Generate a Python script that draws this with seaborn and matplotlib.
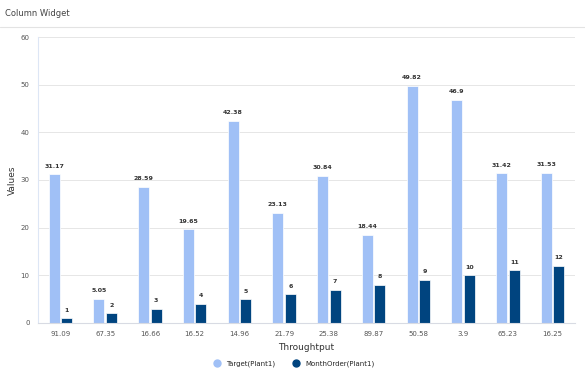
import pandas as pd
import seaborn as sns
import matplotlib.pyplot as plt
from matplotlib.lines import Line2D

# chart values
categories = ['91.09', '67.35', '16.66', '16.52', '14.96', '21.79',
              '25.38', '89.87', '50.58', '3.9', '65.23', '16.25']
target = [31.17, 5.05, 28.59, 19.65, 42.38, 23.13, 30.84, 18.44, 49.82, 46.9, 31.42, 31.53]
month_order = [1, 2, 3, 4, 5, 6, 7, 8, 9, 10, 11, 12]
series_names = ['Target(Plant1)', 'MonthOrder(Plant1)']
colors = ['#a0c0f6', '#00447f']

df = pd.DataFrame({
    'Throughtput': categories * 2,
    'Values': target + month_order,
    'series': [series_names[0]] * len(categories) + [series_names[1]] * len(categories),
})

sns.set_style('white')
plt.rcParams['font.family'] = ['DejaVu Sans']

fig = plt.figure(figsize=(5.85, 3.75), dpi=100)
ax = fig.add_axes([0.065, 0.139, 0.918, 0.762])

sns.barplot(data=df, x='Throughtput', y='Values', hue='series', order=categories,
            hue_order=series_names, palette=colors, saturation=1, width=0.56, gap=0.13,
            edgecolor='white', linewidth=0.5, ax=ax, legend=False)

for cont in ax.containers:
    labels = [f'{v:g}' for v in cont.datavalues]
    ax.bar_label(cont, labels=labels, padding=4, fontsize=4.5, fontweight='bold', color='#333333')

ax.set_ylim(0, 60)
ax.set_yticks(range(0, 61, 10))
ax.grid(axis='y', color='#e6e6e6', linewidth=0.7)
ax.set_axisbelow(True)
for s in ['top', 'right']:
    ax.spines[s].set_visible(False)
ax.spines['left'].set_color('#dde6f5')
ax.spines['bottom'].set_color('#d8dbe3')
ax.tick_params(axis='both', length=0, labelsize=5, labelcolor='#555555', pad=6)
ax.set_xlabel('Throughtput', fontsize=6.5, color='#333333', labelpad=4)
ax.set_ylabel('Values', fontsize=6.5, color='#333333', labelpad=3)

handles = [Line2D([], [], marker='o', linestyle='', markersize=5, color=c) for c in colors]
fig.legend(handles, series_names, loc='center', bbox_to_anchor=(0.5, 0.03),
           ncol=2, frameon=False, fontsize=5, handletextpad=0.3, columnspacing=2)

fig.text(0.009, 0.965, 'Column Widget', fontsize=6, color='#444444', va='center')
fig.add_artist(Line2D([0, 1], [0.928, 0.928], color='#e3e3e3', linewidth=0.8))

plt.savefig('out.png', dpi=100)
